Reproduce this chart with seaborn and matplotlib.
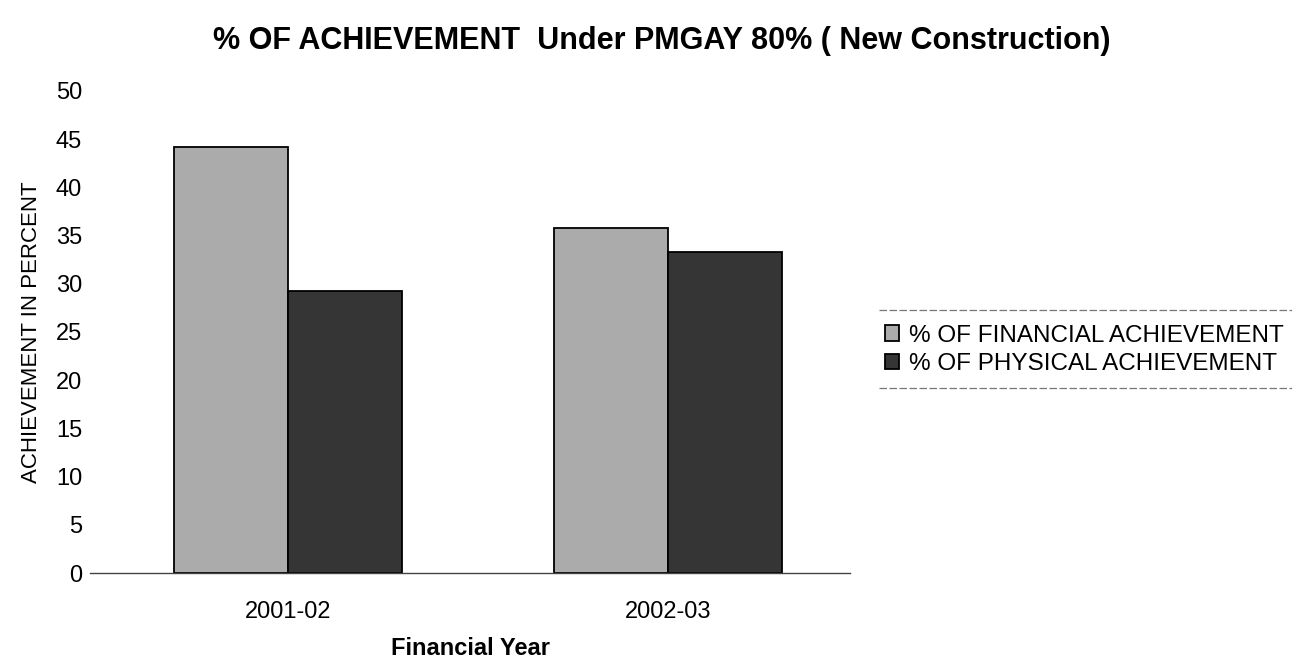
import pandas as pd
import matplotlib
matplotlib.use("Agg")
import matplotlib.pyplot as plt
from matplotlib.lines import Line2D
import seaborn as sns

# values
years = ["2001-02", "2002-03"]
financial = [44.2, 35.8]
physical = [29.3, 33.3]
series = ["% OF FINANCIAL ACHIEVEMENT", "% OF PHYSICAL ACHIEVEMENT"]
yticks = [0, 5, 10, 15, 20, 25, 30, 35, 40, 45, 50]

df = pd.DataFrame({
    "year": years * 2,
    "value": financial + physical,
    "series": [series[0]] * len(years) + [series[1]] * len(years),
})

sns.set_style("white")
plt.rcParams["font.family"] = ["Liberation Sans", "DejaVu Sans"]
plt.rcParams["text.color"] = "black"
plt.rcParams["axes.labelcolor"] = "black"
plt.rcParams["xtick.color"] = "black"
plt.rcParams["ytick.color"] = "black"

fig = plt.figure(figsize=(12.92, 6.59), dpi=100)
ax = fig.add_axes([0.07, 0.1305, 0.588, 0.7315])

sns.barplot(data=df, x="year", y="value", hue="series", ax=ax,
            palette=["#ababab", "#353535"], width=0.6, saturation=1,
            edgecolor="black", linewidth=1.3)

ax.set_ylim(0, 50)
ax.set_xlim(-0.52, 1.48)
ax.set_yticks(yticks)
ax.tick_params(axis="both", length=0, labelsize=17)
ax.tick_params(axis="x", pad=20)
ax.tick_params(axis="y", pad=6)
for s in ["top", "right", "left"]:
    ax.spines[s].set_visible(False)
ax.spines["bottom"].set_color("#444444")
ax.spines["bottom"].set_linewidth(1.0)

ax.set_xlabel("Financial Year", fontsize=17, fontweight="bold", labelpad=10)
ax.set_ylabel("ACHIEVEMENT IN PERCENT", fontsize=16, labelpad=10)

fig.suptitle("% OF ACHIEVEMENT  Under PMGAY 80% ( New Construction)",
             x=0.512, y=0.96, fontsize=22, fontweight="bold")

leg = ax.legend(loc="center left", bbox_to_anchor=(1.02, 0.463), frameon=False,
                fontsize=17.5, handlelength=0.6, handleheight=0.6,
                handletextpad=0.4, borderpad=0.3, labelspacing=0.25)

# thin rules above and below the legend, as on the scanned page
for yy in [0.53, 0.411]:
    fig.add_artist(Line2D([0.68, 1.0], [yy, yy], color="#777777",
                          linewidth=0.9, linestyle=(0, (6, 2))))

fig.savefig("out.png", dpi=100)
